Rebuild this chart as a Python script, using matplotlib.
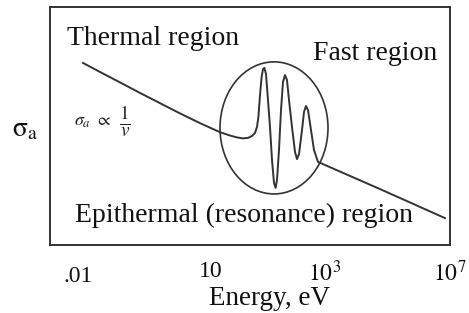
import matplotlib
matplotlib.use("Agg")
import matplotlib.pyplot as plt
from matplotlib.patches import Ellipse

plt.rcParams['font.family'] = ['Liberation Serif', 'DejaVu Serif']
plt.rcParams['mathtext.fontset'] = 'stix'

# schematic curve: position along energy axis (0-100) vs relative sigma_a (0-100)
curve_x = [8.25, 12.5, 17.75, 22.5, 29.0, 32.5, 37.5, 42.5, 45.0, 46.75, 48.25, 49.5,
           50.5, 51.25, 51.75, 52.1, 52.5, 52.9, 53.25, 53.6, 54.0, 54.5, 55.0, 55.5,
           56.0, 56.4, 56.75, 57.25, 57.75, 58.25, 58.75, 59.25, 59.75, 60.5, 61.25,
           61.75, 62.25, 63.0, 63.5, 64.0, 64.5, 65.25, 66.0, 67.0, 82.5, 98.75]
curve_y = [76.5, 72.7, 68.1, 63.9, 58.3, 55.3, 51.2, 47.4, 46.0, 45.2, 44.8, 45.0,
           45.8, 47.1, 49.6, 53.8, 63.0, 70.6, 73.9, 74.4, 71.8, 60.9, 49.6, 35.7,
           26.1, 24.0, 27.3, 39.9, 56.7, 68.5, 71.4, 69.3, 60.9, 49.6, 39.1,
           36.1, 38.2, 48.3, 55.9, 58.4, 56.7, 48.3, 39.9, 34.9, 23.5, 11.3]

tick_pos = [7.0, 40.25, 68.75, 100.0]
tick_labels = ['.01', '10', r'$10^3$', r'$10^7$']
tick_y = [-0.154, -0.133, -0.154, -0.154]

# resonance circle
res_center = (56.0, 49.2)
res_w, res_h = 27.0, 55.5

fig = plt.figure(figsize=(4.69, 3.13), dpi=100)
ax = fig.add_axes([50 / 469, 68 / 313, 400 / 469, 238 / 313])
ax.set_xlim(0, 100)
ax.set_ylim(0, 100)
ax.set_xticks([])
ax.set_yticks([])
for s in ax.spines.values():
    s.set_linewidth(1.4)
    s.set_color('#333333')

ax.plot(curve_x, curve_y, color='#333333', lw=1.4, solid_joinstyle='round')
ax.add_patch(Ellipse(res_center, res_w, res_h, fill=False, ec='#333333', lw=1.2))

ax.text(25.75, 84.0, 'Thermal region', ha='center', va='baseline', fontsize=20, color='#111111')
ax.text(81.4, 77.7, 'Fast region', ha='center', va='baseline', fontsize=20, color='#111111')
ax.text(48.6, 9.8, 'Epithermal (resonance) region', ha='center', va='baseline',
        fontsize=20, color='#111111')
# sigma_a ~ 1/v note
ax.text(6.0, 51.7, r'$\sigma_{a}\ \propto$', ha='left', va='center',
        fontsize=13, color='#222222')
ax.text(18.6, 51.7, r'$\frac{1}{v}$', ha='center', va='center',
        fontsize=20, color='#222222')

xf = ax.get_xaxis_transform()
for p, lab, ty in zip(tick_pos, tick_labels, tick_y):
    ax.text(p, ty, lab, transform=xf, ha='center', va='baseline', fontsize=17,
            color='#111111', clip_on=False)

ax.text(55.0, -0.252, 'Energy, eV', transform=xf, ha='center', va='baseline',
        fontsize=19.5, color='#111111')
ax.text(-0.0625, 0.483, r'$\mathrm{σ}_{\mathrm{a}}$', transform=ax.transAxes, ha='center',
        va='center', fontsize=20, color='#111111')

fig.savefig('out.png', dpi=100)
